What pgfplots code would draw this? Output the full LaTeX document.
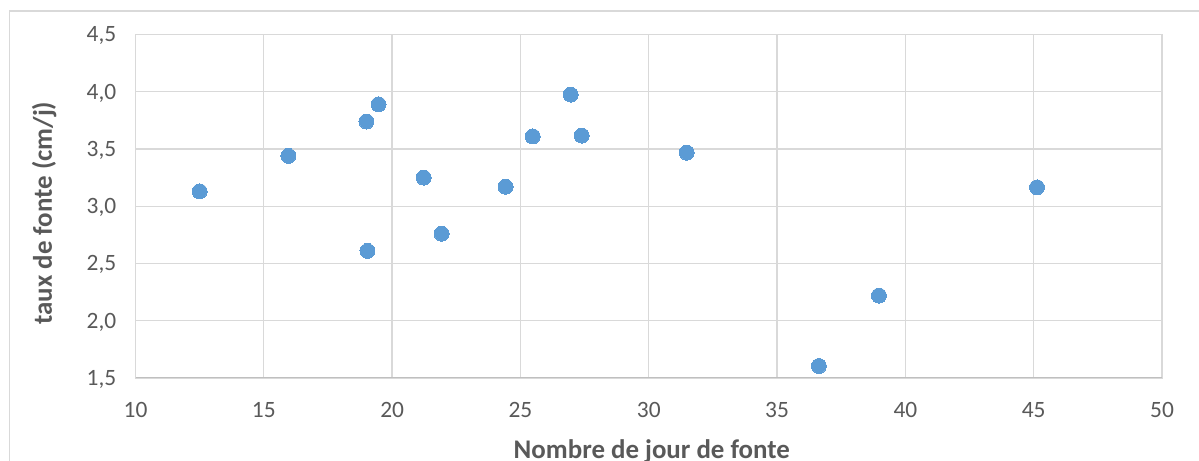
\documentclass[border=0pt]{standalone}
\usepackage{pgfplots}
\pgfplotsset{compat=1.18}
\usepackage{fontspec}
\setmainfont{Carlito}
\definecolor{txt}{HTML}{595959}
\definecolor{gridc}{HTML}{D9D9D9}
\definecolor{axc}{HTML}{BFBFBF}
\definecolor{pt}{HTML}{5B9BD5}
\begin{document}
\begin{tikzpicture}
\draw[gridc, line width=1.3bp] (9.5bp,-20bp) -- (9.5bp,450bp) -- (1220bp,450bp);
\begin{axis}[
  at={(135.5bp,83bp)}, anchor=south west,
  width=1026.5bp, height=343.5bp, scale only axis,
  xmin=10, xmax=50, ymin=1.5, ymax=4.5,
  xtick={10,15,...,50}, ytick={1.5,2,...,4.5},
  grid=major,
  major grid style={gridc, line width=1.3bp},
  axis line style={gridc, line width=1.3bp},
  major tick length=0pt,
  tick label style={font=\fontsize{23.5}{26}\selectfont, text=txt},
  /pgf/number format/assume math mode=true,
  /pgf/number format/use comma,
  yticklabel style={/pgf/number format/fixed, /pgf/number format/fixed zerofill, /pgf/number format/precision=1, anchor=base east, xshift=-15.7bp, yshift=-7.4bp},
  xticklabel style={anchor=base, yshift=-39bp},
  xlabel={Nombre de jour de fonte},
  ylabel={taux de fonte (cm/j)},
  label style={font=\bfseries\fontsize{27}{30}\selectfont, text=txt},
  xlabel style={at={(axis description cs:0.503,-0.233)}, anchor=base},
  ylabel style={at={(axis description cs:-0.089,0.48)}, anchor=center},
]
\addplot[only marks, mark=*, mark size=7.5bp, mark options={fill=pt, draw=pt, line width=0pt}] coordinates {
(12.50,3.13) (15.96,3.44) (19.00,3.74) (19.47,3.89) (19.04,2.61)
(21.23,3.25) (21.93,2.76) (24.42,3.17) (25.48,3.61) (26.96,3.975)
(27.39,3.617) (31.48,3.468) (36.63,1.605) (38.97,2.22) (45.13,3.165)
};
\draw[axc, line width=1.3bp] (rel axis cs:0,0) -- (rel axis cs:1,0);
\end{axis}
\pgfresetboundingbox
\path[use as bounding box] (0,0) rectangle (1199bp,461bp);
\end{tikzpicture}
\end{document}
